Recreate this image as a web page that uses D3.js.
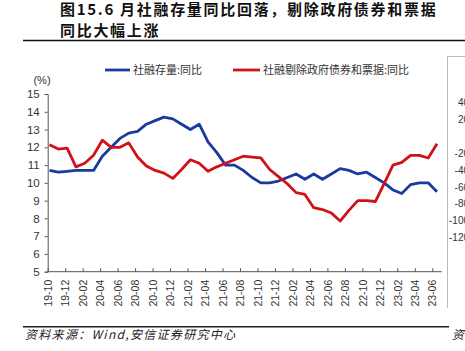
<!DOCTYPE html>
<html>
<head>
<meta charset="utf-8">
<script src="https://cdn.jsdelivr.net/npm/d3@7"></script>
<style>
  body { margin: 0; background: #fff; }
  svg { display: block; }
</style>
</head>
<body>
<div id="chart"></div>
<script>
// months of the two series (monthly, 2019-09 .. 2023-05)
const dataMonths = [
  "2019-09","2019-10","2019-11","2019-12","2020-01","2020-02","2020-03","2020-04","2020-05","2020-06",
  "2020-07","2020-08","2020-09","2020-10","2020-11","2020-12","2021-01","2021-02","2021-03","2021-04",
  "2021-05","2021-06","2021-07","2021-08","2021-09","2021-10","2021-11","2021-12","2022-01","2022-02",
  "2022-03","2022-04","2022-05","2022-06","2022-07","2022-08","2022-09","2022-10","2022-11","2022-12",
  "2023-01","2023-02","2023-03","2023-04","2023-05"
];

// 社融存量:同比 (%)
const stockYoY = [
  10.7, 10.6, 10.65, 10.7, 10.7, 10.7, 11.5, 12.0, 12.5, 12.8,
  12.9, 13.3, 13.5, 13.7, 13.6, 13.3, 13.0, 13.3, 12.3, 11.7,
  11.0, 11.0, 10.7, 10.3, 10.0, 10.0, 10.1, 10.3, 10.5, 10.2,
  10.5, 10.2, 10.5, 10.8, 10.7, 10.5, 10.6, 10.3, 10.0, 9.6,
  9.4, 9.9, 10.0, 10.0, 9.5
];

// 社融剔除政府债券和票据:同比 (%)
const exGovBillYoY = [
  12.15, 11.9, 11.95, 10.9, 11.1, 11.55, 12.4, 12.0, 12.0, 12.25,
  11.45, 10.95, 10.7, 10.55, 10.25, 10.75, 11.3, 11.1, 10.65, 10.9,
  11.1, 11.3, 11.5, 11.45, 11.4, 10.75, 10.35, 9.95, 9.45, 9.35,
  8.6, 8.5, 8.3, 7.85, 8.45, 9.0, 9.0, 8.95, 9.95, 11.0,
  11.15, 11.55, 11.55, 11.4, 12.2
];

// x axis labels (every two months)
const tickLabels = [
  "19-10","19-12","20-02","20-04","20-06","20-08","20-10","20-12","21-02","21-04",
  "21-06","21-08","21-10","21-12","22-02","22-04","22-06","22-08","22-10","22-12",
  "23-02","23-04","23-06"
];

const yTicks = [5, 6, 7, 8, 9, 10, 11, 12, 13, 14, 15];
// tick labels of the cut-off neighbouring chart on the right
const rightTicks = [40, 20, -20, -40, -60, -80, -100, -120];

const seriesNames = ["社融存量:同比", "社融剔除政府债券和票据:同比"];
const colors = ["#1b3a9e", "#d01218"];

const W = 465, H = 351;
const plot = {left: 47.7, right: 432.3, top: 94, bottom: 271.7, dataRight: 437, axisEnd: 441.7};
const axisColor = "#555";
const textColor = "#333";
const numFont = "Arial, 'Liberation Sans', sans-serif";
const cjkFont = "'Noto Sans CJK SC', sans-serif";

const svg = d3.select("#chart").append("svg").attr("width", W).attr("height", H);

// ---- title ----
const title = svg.append("g")
  .attr("font-family", cjkFont)
  .attr("font-weight", "bold")
  .attr("font-size", "15px")
  .attr("letter-spacing", "1.7px")
  .attr("fill", "#111");
title.append("text").attr("x", 60).attr("y", 14.8).text("图15.6 月社融存量同比回落，剔除政府债券和票据");
title.append("text").attr("x", 60).attr("y", 35.5).text("同比大幅上涨");

svg.append("line")
  .attr("x1", 23).attr("x2", W).attr("y1", 40.5).attr("y2", 40.5)
  .attr("stroke", "#111").attr("stroke-width", 1.4);

// ---- scales ----
const xTick = d3.scalePoint().domain(tickLabels).range([plot.left, plot.right]);
const xData = d3.scalePoint().domain(dataMonths).range([plot.left + 1.8, plot.dataRight]);
const y = d3.scaleLinear().domain([5, 15]).range([plot.bottom, plot.top]);
const y2 = d3.scaleLinear().domain([-120, 40]).range([237.7, 102.7]);

// ---- y axis ----
const yAxis = svg.append("g")
  .attr("transform", `translate(${plot.left},0)`)
  .call(d3.axisLeft(y).tickValues(yTicks).tickSize(3).tickPadding(5).tickFormat(d3.format("d")));
yAxis.select(".domain").attr("stroke", axisColor);
yAxis.selectAll(".tick line").attr("stroke", axisColor);
yAxis.selectAll("text")
  .attr("font-family", numFont)
  .attr("font-size", "11.5px")
  .attr("fill", textColor);

svg.append("text")
  .attr("x", 42).attr("y", 84)
  .attr("text-anchor", "middle")
  .attr("font-family", numFont)
  .attr("font-size", "11px")
  .attr("fill", textColor)
  .text("(%)");

// ---- x axis ----
const xAxis = svg.append("g")
  .attr("transform", `translate(0,${plot.bottom})`)
  .call(d3.axisBottom(xTick).tickSizeInner(-3.5).tickSizeOuter(0).tickPadding(0));
xAxis.select(".domain").remove();
xAxis.append("line")
  .attr("x1", plot.left).attr("x2", plot.axisEnd)
  .attr("stroke", axisColor);
xAxis.selectAll(".tick line").attr("stroke", axisColor);
xAxis.selectAll("text")
  .attr("font-family", numFont)
  .attr("font-size", "10.5px")
  .attr("fill", textColor)
  .attr("text-anchor", "end")
  .attr("transform", "translate(0,8) rotate(-90)")
  .attr("x", 0).attr("y", 0)
  .attr("dy", "0.35em");

// ---- lines ----
const line = d3.line()
  .x((d, i) => xData(dataMonths[i]))
  .y(d => y(d));

[stockYoY, exGovBillYoY].forEach((values, k) => {
  svg.append("path")
    .datum(values)
    .attr("d", line)
    .attr("fill", "none")
    .attr("stroke", colors[k])
    .attr("stroke-width", 2.8)
    .attr("stroke-linejoin", "round");
});

// ---- legend ----
const legendPos = [{x: 105, len: 25}, {x: 233, len: 27}];
const legend = svg.append("g").selectAll("g")
  .data(seriesNames)
  .join("g")
    .attr("transform", (d, i) => `translate(${legendPos[i].x},70)`);
legend.append("line")
  .attr("x1", 0).attr("x2", (d, i) => legendPos[i].len)
  .attr("stroke", (d, i) => colors[i])
  .attr("stroke-width", 2.8);
legend.append("text")
  .attr("x", (d, i) => legendPos[i].len + 3)
  .attr("dy", "0.36em")
  .attr("font-family", cjkFont)
  .attr("font-size", "11px")
  .attr("fill", textColor)
  .text(d => d);

// ---- neighbouring chart, cut off at the right edge ----
svg.append("path")
  .attr("d", `M${W},56.5H447.5V308`)
  .attr("fill", "none")
  .attr("stroke", "#bbb")
  .attr("stroke-width", 1);
svg.append("g")
  .selectAll("text")
  .data(rightTicks)
  .join("text")
    .attr("x", 469)
    .attr("y", d => y2(d))
    .attr("dy", "0.35em")
    .attr("text-anchor", "end")
    .attr("font-family", numFont)
    .attr("font-size", "10px")
    .attr("fill", textColor)
    .text(d => d);

// ---- source ----
svg.append("line")
  .attr("x1", 23).attr("x2", 449).attr("y1", 326.7).attr("y2", 326.7)
  .attr("stroke", "#222").attr("stroke-width", 1.6);
const source = svg.append("g")
  .attr("font-family", cjkFont)
  .attr("font-style", "italic")
  .attr("font-size", "12px")
  .attr("fill", "#222");
source.append("text")
  .attr("x", 25).attr("y", 339)
  .attr("letter-spacing", "1.3px")
  .text("资料来源：Wind,安信证券研究中心");
source.append("text")
  .attr("x", 452).attr("y", 339)
  .text("资");
</script>
</body>
</html>
